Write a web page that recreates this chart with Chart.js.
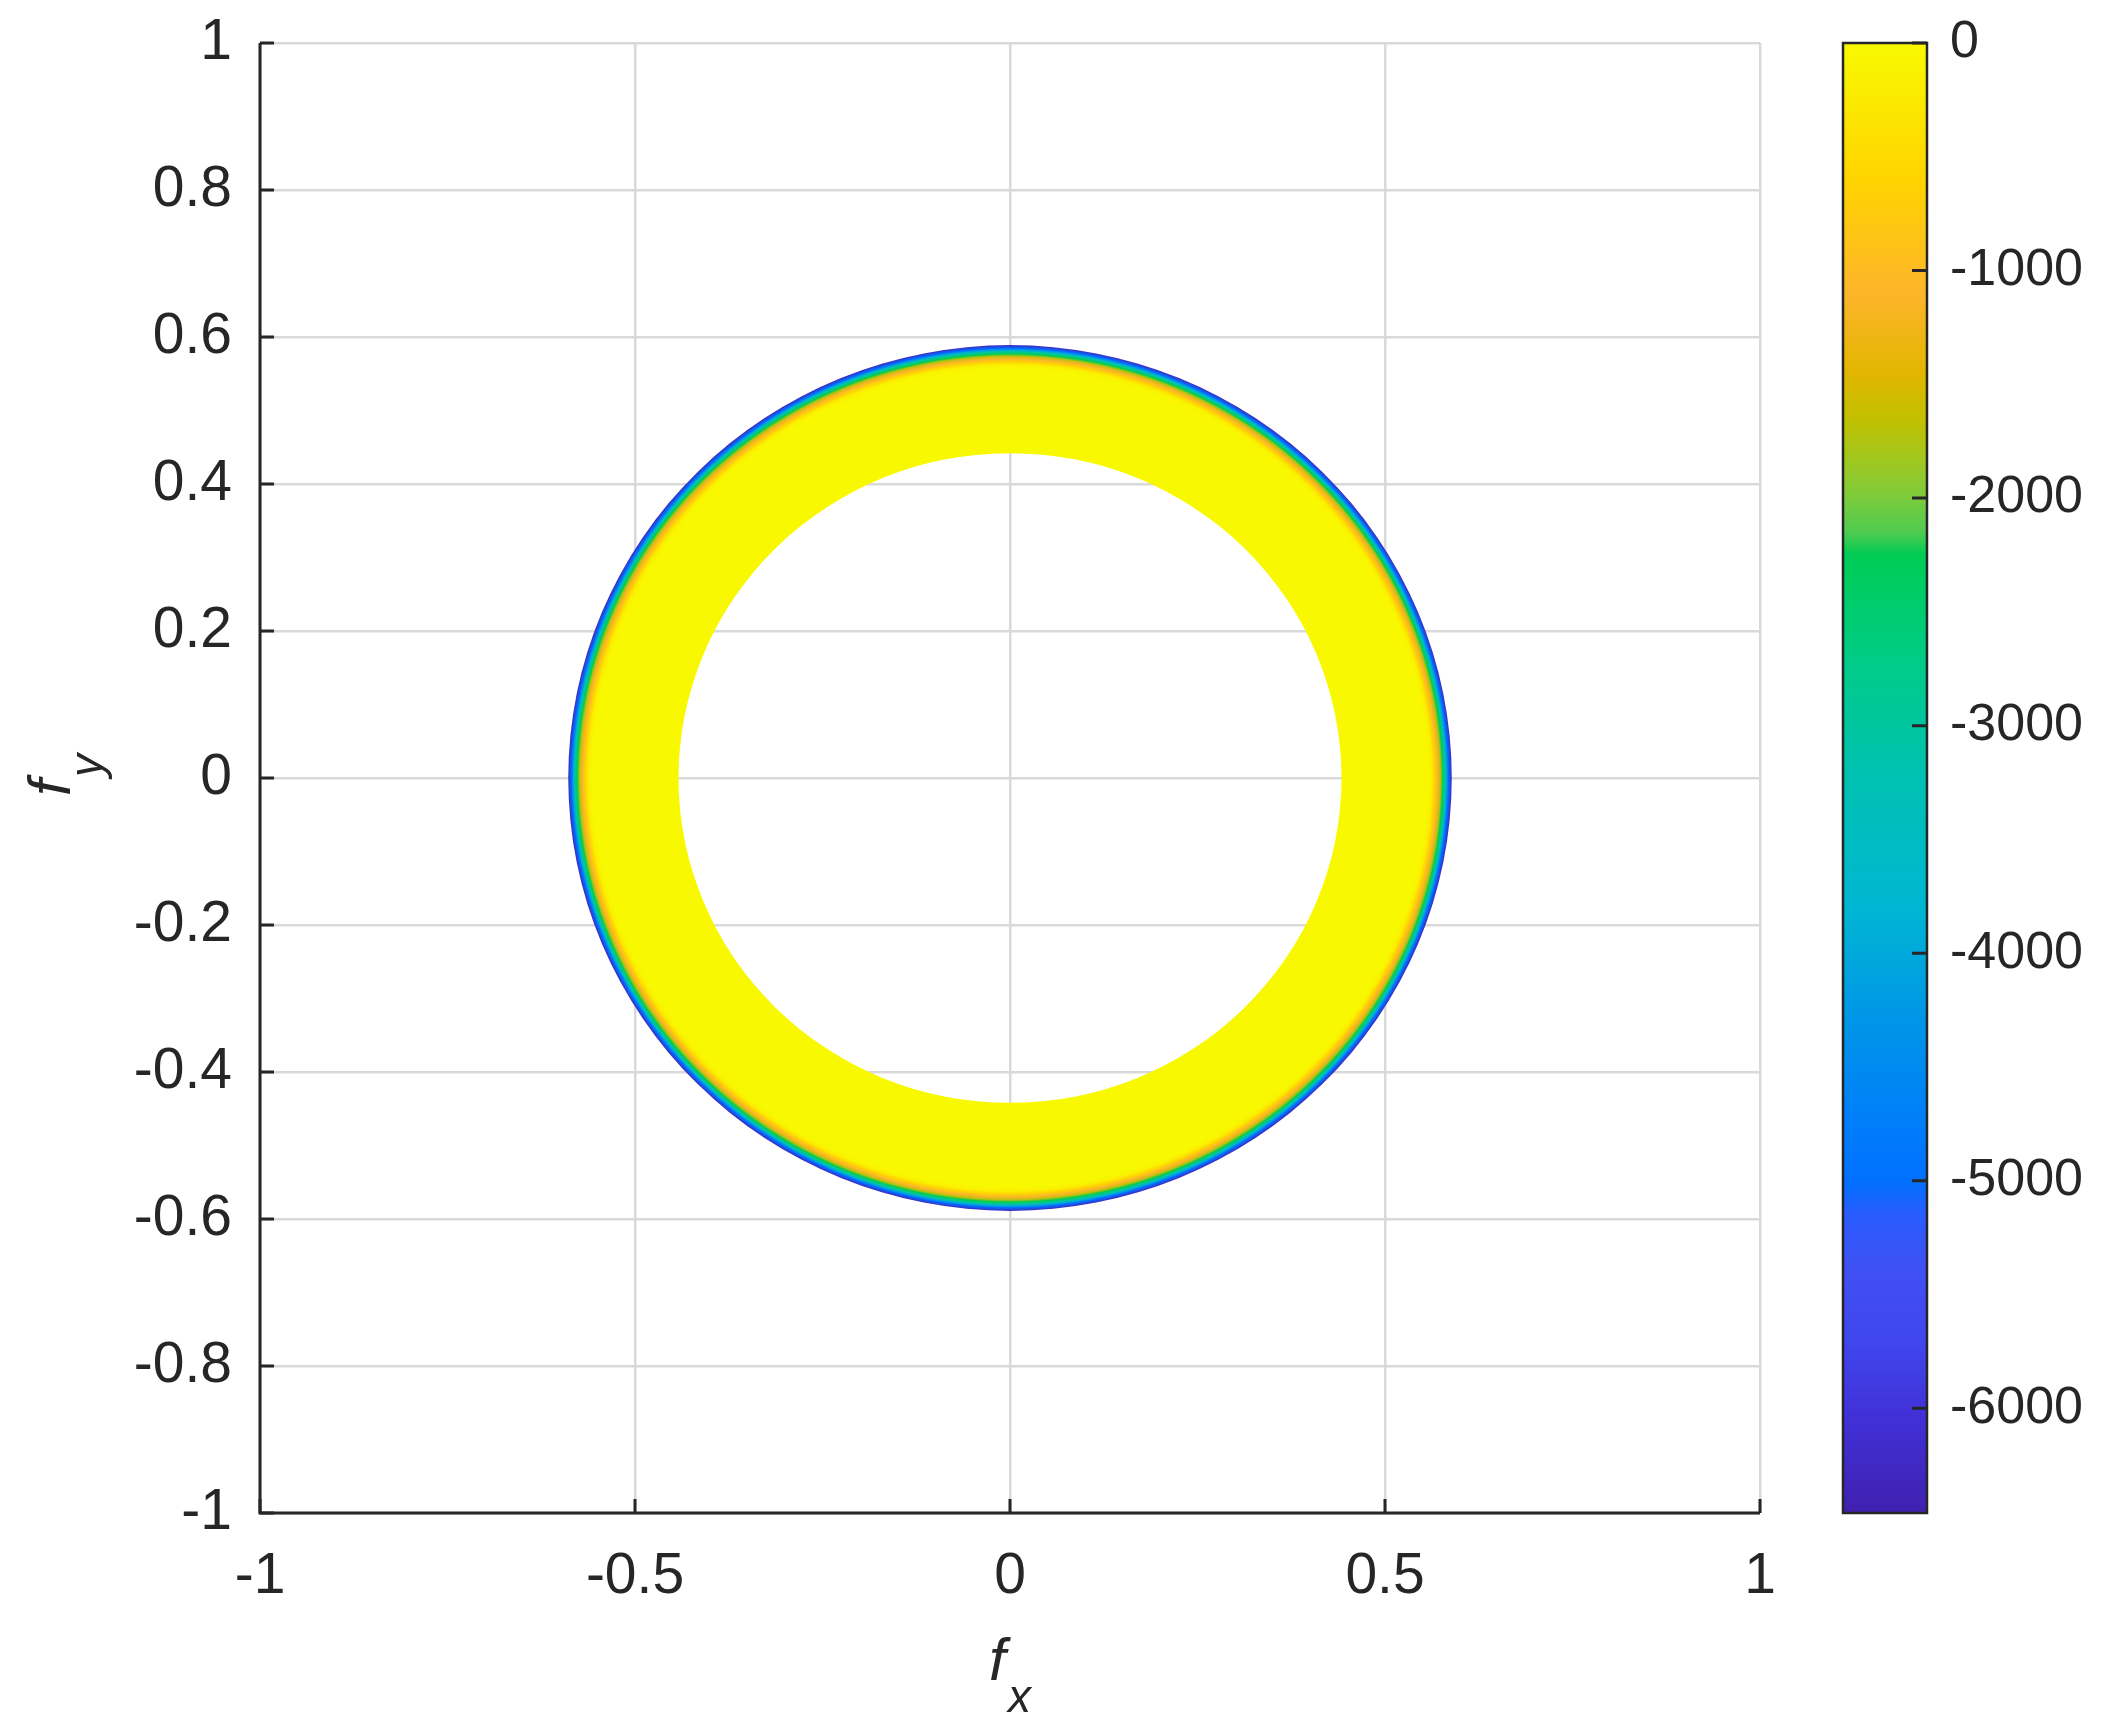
<!DOCTYPE html>
<html>
<head>
<meta charset="utf-8">
<script src="https://cdn.jsdelivr.net/npm/chart.js@4.4.1/dist/chart.umd.min.js"></script>
<style>
  html, body { margin: 0; padding: 0; background: #fff; }
  #wrap { width: 2103px; height: 1735px; position: relative; }
</style>
</head>
<body>
<div id="wrap"><canvas id="ringChart" width="2103" height="1735"></canvas></div>
<script>
// tick labels
const xTicks = [-1, -0.5, 0, 0.5, 1];
const yTicks = [1, 0.8, 0.6, 0.4, 0.2, 0, -0.2, -0.4, -0.6, -0.8, -1];
const cbTicks = [0, -1000, -2000, -3000, -4000, -5000, -6000];
const cbMin = -6460;
const cbMax = 0;

// radial profile of the ring (radius, value)
const ringRadius = [0.442, 0.500, 0.556, 0.562, 0.566, 0.570, 0.574, 0.577, 0.580, 0.582, 0.5845, 0.589];
const ringValue  = [0,     0,     0,     -150,  -600,  -1100, -1700, -2250, -3000, -4000, -5000,  -6300];

// colormap stops as seen on the colorbar
const cmapValues = [0, -600, -1100, -1450, -1650, -1850, -2000, -2150, -2250, -2700, -3200, -3800, -4250, -4700, -5000, -5150, -5400, -5700, -6050, -6460];
const cmapColors = ['#f8f900', '#ffd400', '#fdb52a', '#e2b600', '#c2c000', '#9dc822', '#7ccb3c', '#4fcb50', '#00cc55', '#00cc85',
                    '#00c2b0', '#00b6d2', '#0098e6', '#0080f8', '#0070ff', '#2a5cff', '#4050f2', '#4046ee', '#4030d6', '#4020b0'];

const ink = '#262626';
const fontFam = "'Liberation Sans', Arial, sans-serif";

function hexRgb(h) {
  return [parseInt(h.slice(1, 3), 16), parseInt(h.slice(3, 5), 16), parseInt(h.slice(5, 7), 16)];
}

// colour for a value, from the colormap stops
function colorAt(v) {
  if (v >= cmapValues[0]) return cmapColors[0];
  for (let i = 1; i < cmapValues.length; i++) {
    if (v >= cmapValues[i]) {
      const t = (cmapValues[i - 1] - v) / (cmapValues[i - 1] - cmapValues[i]);
      const a = hexRgb(cmapColors[i - 1]), b = hexRgb(cmapColors[i]);
      const c = a.map((x, k) => Math.round(x + (b[k] - x) * t));
      return 'rgb(' + c.join(',') + ')';
    }
  }
  return cmapColors[cmapColors.length - 1];
}

// ring: radial gradient through the x/y scales
const ringPlugin = {
  id: 'ring',
  beforeDatasetsDraw(chart) {
    const xs = chart.scales.x, ys = chart.scales.y;
    const pts = chart.data.datasets[0].data;
    const cx = xs.getPixelForValue(0), cy = ys.getPixelForValue(0);
    const kx = xs.getPixelForValue(1) - cx;
    const ky = cy - ys.getPixelForValue(1);
    const rIn = pts[0].x, rOut = pts[pts.length - 1].x;
    const ctx = chart.ctx;
    ctx.save();
    ctx.beginPath();
    ctx.rect(chart.chartArea.left, chart.chartArea.top, chart.chartArea.width, chart.chartArea.height);
    ctx.clip();
    ctx.translate(cx, cy);
    ctx.scale(kx, ky);
    const g = ctx.createRadialGradient(0, 0, 0, 0, 0, rOut);
    pts.forEach(p => g.addColorStop(p.x / rOut, colorAt(p.v)));
    ctx.fillStyle = g;
    ctx.beginPath();
    ctx.arc(0, 0, rOut, 0, Math.PI * 2);
    ctx.arc(0, 0, rIn, 0, Math.PI * 2, true);
    ctx.fill();
    ctx.restore();
  }
};

// axes lines, inward ticks, colorbar and axis titles
const decoPlugin = {
  id: 'deco',
  afterDraw(chart) {
    const ctx = chart.ctx;
    const xs = chart.scales.x, ys = chart.scales.y, cb = chart.scales.cb;
    const a = chart.chartArea;
    ctx.save();
    ctx.strokeStyle = ink;
    ctx.lineWidth = 3;
    ctx.beginPath();
    ctx.moveTo(a.left, a.top);
    ctx.lineTo(a.left, a.bottom);
    ctx.lineTo(a.right, a.bottom);
    ctx.stroke();
    ctx.beginPath();
    xTicks.forEach(v => {
      const px = xs.getPixelForValue(v);
      ctx.moveTo(px, a.bottom);
      ctx.lineTo(px, a.bottom - 14);
    });
    yTicks.forEach(v => {
      const py = ys.getPixelForValue(v);
      ctx.moveTo(a.left, py);
      ctx.lineTo(a.left + 14, py);
    });
    ctx.stroke();

    // colorbar
    const top = cb.getPixelForValue(cbMax), bot = cb.getPixelForValue(cbMin);
    const x0 = cb.left + 83, w = 84;
    const grad = ctx.createLinearGradient(0, top, 0, bot);
    cmapValues.forEach((v, i) => grad.addColorStop((cbMax - v) / (cbMax - cbMin), cmapColors[i]));
    ctx.fillStyle = grad;
    ctx.fillRect(x0, top, w, bot - top);
    ctx.lineWidth = 2.5;
    ctx.strokeRect(x0, top, w, bot - top);
    ctx.lineWidth = 3;
    ctx.beginPath();
    cbTicks.forEach(v => {
      const py = cb.getPixelForValue(v);
      ctx.moveTo(x0 + w, py);
      ctx.lineTo(x0 + w - 15, py);
    });
    ctx.stroke();

    // axis titles f_x, f_y
    ctx.fillStyle = ink;
    ctx.textBaseline = 'alphabetic';
    ctx.textAlign = 'left';
    const mid = xs.getPixelForValue(0);
    ctx.font = 'italic 60px ' + fontFam;
    ctx.fillText('f', mid - 21, 1680);
    ctx.font = 'italic 46px ' + fontFam;
    ctx.fillText('x', mid - 2, 1712);

    const midY = ys.getPixelForValue(0);
    ctx.translate(70, midY);
    ctx.rotate(-Math.PI / 2);
    ctx.font = 'italic 60px ' + fontFam;
    ctx.fillText('f', -18, 0);
    ctx.font = 'italic 46px ' + fontFam;
    ctx.fillText('y', 1, 32);
    ctx.restore();
  }
};

const canvas = document.getElementById('ringChart');
const ringChart = new Chart(canvas.getContext('2d'), {
  type: 'scatter',
  data: {
    datasets: [{
      label: 'ring',
      data: ringRadius.map((r, i) => ({ x: r, y: 0, v: ringValue[i] })),
      pointRadius: 0,
      showLine: false
    }]
  },
  options: {
    responsive: false,
    animation: false,
    events: [],
    layout: { padding: { top: 43, left: 0, right: 0, bottom: 0 } },
    plugins: { legend: { display: false }, tooltip: { enabled: false } },
    scales: {
      x: {
        type: 'linear', position: 'bottom', min: -1, max: 1,
        afterBuildTicks: s => { s.ticks = xTicks.map(v => ({ value: v })); },
        afterFit: s => { s.height = 222; },
        grid: { color: '#d9d9d9', lineWidth: 2.5, drawTicks: false },
        border: { display: false },
        ticks: { color: ink, font: { family: fontFam, size: 57 }, padding: 30, maxRotation: 0, autoSkip: false, callback: v => String(v) }
      },
      y: {
        type: 'linear', position: 'left', min: -1, max: 1,
        afterBuildTicks: s => { s.ticks = yTicks.map(v => ({ value: v })); },
        afterFit: s => { s.width = 260; },
        grid: { color: '#d9d9d9', lineWidth: 2.5, drawTicks: true, tickLength: 24, tickColor: 'rgba(0,0,0,0)' },
        border: { display: false },
        ticks: { color: ink, font: { family: fontFam, size: 57 }, padding: 4, autoSkip: false, callback: v => String(v) }
      },
      cb: {
        type: 'linear', position: 'right', min: cbMin, max: cbMax,
        afterBuildTicks: s => { s.ticks = cbTicks.map(v => ({ value: v })); },
        afterFit: s => { s.width = 343; },
        grid: { display: false, drawTicks: true, tickLength: 180 },
        border: { display: false },
        ticks: { color: ink, font: { family: fontFam, size: 52 }, padding: 10, autoSkip: false, callback: v => String(v) }
      }
    }
  },
  plugins: [ringPlugin, decoPlugin]
});
</script>
</body>
</html>
